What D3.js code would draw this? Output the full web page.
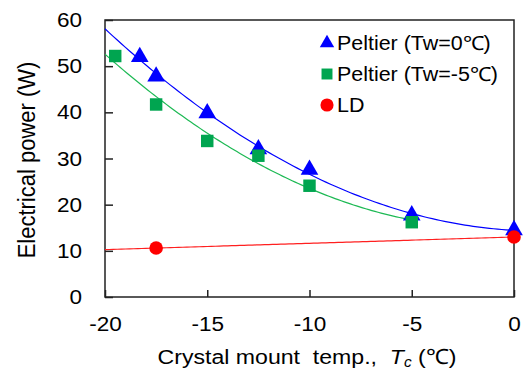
<!DOCTYPE html>
<html><head><meta charset="utf-8">
<script src="https://cdn.jsdelivr.net/npm/d3@7"></script>
<style>
html,body{margin:0;padding:0;background:#fff;}
text{font-family:"Liberation Sans",Arial,sans-serif;fill:#000;}
</style></head>
<body><svg id="c" width="523" height="373"></svg>
<script>
const xTicks = [-20, -15, -10, -5, 0];
const yTicks = [0, 10, 20, 30, 40, 50, 60];
const peltier0X = [-18.3, -17.5, -15, -12.5, -10, -5, 0];
const peltier0Y = [52.0, 47.8, 39.8, 32.0, 27.6, 17.7, 14.5];
const peltier5X = [-19.5, -17.5, -15, -12.5, -10, -5];
const peltier5Y = [52.2, 41.7, 33.8, 30.6, 24.1, 16.2];
const ldX = [-17.5, 0];
const ldY = [10.6, 13.0];
const seriesNames = ["Peltier (Tw=0\u2103)", "Peltier (Tw=-5\u2103)", "LD"];
const colors = ["#0000FF", "#00A550", "#FF0000"];
const lineColors = ["#0000FF", "#1DB954", "#FF2020"];

// least-squares polynomial fit (trendline)
function polyfit(xs, ys, order){
  const n = order + 1;
  const A = Array.from({length:n}, () => new Array(n + 1).fill(0));
  xs.forEach((x, k) => {
    for (let i = 0; i < n; i++) {
      for (let j = 0; j < n; j++) A[i][j] += Math.pow(x, i + j);
      A[i][n] += ys[k] * Math.pow(x, i);
    }
  });
  for (let i = 0; i < n; i++) {
    let p = i;
    for (let r = i + 1; r < n; r++) if (Math.abs(A[r][i]) > Math.abs(A[p][i])) p = r;
    [A[i], A[p]] = [A[p], A[i]];
    for (let r = 0; r < n; r++) if (r !== i) {
      const f = A[r][i] / A[i][i];
      for (let c = i; c <= n; c++) A[r][c] -= f * A[i][c];
    }
  }
  const coef = A.map((row, i) => row[n] / row[i]);
  return x => coef.reduce((s, c, i) => s + c * Math.pow(x, i), 0);
}

const SX = 1.1; // horizontal text stretch seen in the reference
const svg = d3.select("#c");
const m = {l:105, r:514, t:20, b:297};
const x = d3.scaleLinear().domain([-20, 0]).range([m.l, m.r]);
const y = d3.scaleLinear().domain([0, 60]).range([m.b, m.t]);

// frame
svg.append("rect").attr("x", m.l).attr("y", m.t).attr("width", m.r - m.l).attr("height", m.b - m.t)
  .attr("fill", "none").attr("stroke", "#222").attr("stroke-width", 1.5);

const fmt = d => String(d);
const xAxis = svg.append("g").attr("transform", `translate(0,${m.b})`)
  .call(d3.axisBottom(x).tickValues(xTicks).tickSizeInner(-7).tickSizeOuter(0).tickPadding(19).tickFormat(fmt));
const yAxis = svg.append("g").attr("transform", `translate(${m.l},0)`)
  .call(d3.axisLeft(y).tickValues(yTicks).tickSizeInner(-8).tickSizeOuter(0).tickPadding(23).tickFormat(fmt));
[xAxis, yAxis].forEach(g => {
  g.select(".domain").remove();
  g.selectAll(".tick line").attr("stroke", "#222").attr("stroke-width", 1.5);
  g.selectAll("text").attr("font-size", 20.5).attr("font-family", "Liberation Sans, Arial, sans-serif").attr("fill", "#000");
});
xAxis.selectAll(".tick text").attr("transform", `scale(${SX},1)`);
yAxis.selectAll(".tick text").attr("x", -23 / SX).attr("transform", `scale(${SX},1)`);

// trendlines
const line = d3.line().x(d => x(d[0])).y(d => y(d[1]));
function trend(xs, ys, order, x0, x1, col){
  const f = polyfit(xs, ys, order);
  const pts = d3.range(0, 101).map(i => { const xv = x0 + (x1 - x0) * i / 100; return [xv, f(xv)]; });
  svg.append("path").attr("d", line(pts)).attr("fill", "none").attr("stroke", col).attr("stroke-width", 1.2);
}
trend(peltier0X, peltier0Y, 2, -20, 0, lineColors[0]);
trend(peltier5X, peltier5Y, 2, -20, -5, lineColors[1]);
trend(ldX, ldY, 1, -20, 0, lineColors[2]);

const tri = d3.symbol().type(d3.symbolTriangle).size(135);
const sq = d3.symbol().type(d3.symbolSquare).size(155);
const circ = d3.symbol().type(d3.symbolCircle).size(145);

svg.append("g").selectAll("path").data(peltier0X.map((v, i) => [v, peltier0Y[i]])).join("path")
  .attr("d", tri).attr("transform", d => `translate(${x(d[0])},${y(d[1])})`).attr("fill", colors[0]);
svg.append("g").selectAll("path").data(peltier5X.map((v, i) => [v, peltier5Y[i]])).join("path")
  .attr("d", sq).attr("transform", d => `translate(${x(d[0])},${y(d[1])})`).attr("fill", colors[1]);
svg.append("g").selectAll("path").data(ldX.map((v, i) => [v, ldY[i]])).join("path")
  .attr("d", circ).attr("transform", d => `translate(${x(d[0])},${y(d[1])})`).attr("fill", colors[2]);

// legend
const legY = [43, 74, 105];
const legSyms = [d3.symbol().type(d3.symbolTriangle).size(90), d3.symbol().type(d3.symbolSquare).size(120), d3.symbol().type(d3.symbolCircle).size(135)];
seriesNames.forEach((name, i) => {
  svg.append("path").attr("d", legSyms[i]).attr("transform", `translate(327,${legY[i]})`).attr("fill", colors[i]);
  svg.append("g").attr("transform", `translate(337,${legY[i] + 7}) scale(${SX},1)`)
    .append("text").attr("x", 0).attr("y", 0).attr("font-size", 19.5).text(name);
});

// axis titles
const xl = svg.append("g").attr("transform", `translate(307,364) scale(${SX},1)`)
  .append("text").attr("x", 0).attr("y", 0).attr("text-anchor", "middle").attr("font-size", 21);
xl.append("tspan").text("Crystal mount\u00a0\u00a0temp.,\u00a0\u00a0");
xl.append("tspan").attr("font-style", "italic").text("T");
xl.append("tspan").attr("font-style", "italic").attr("font-size", 14).attr("dy", 3).text("c");
xl.append("tspan").attr("dy", -3).text("\u00a0(\u2103)");

svg.append("g").attr("transform", `translate(35,160) scale(1.05,1) rotate(-90)`)
  .append("text").attr("text-anchor", "middle").attr("font-size", 22).text("Electrical power (W)");
</script></body></html>
